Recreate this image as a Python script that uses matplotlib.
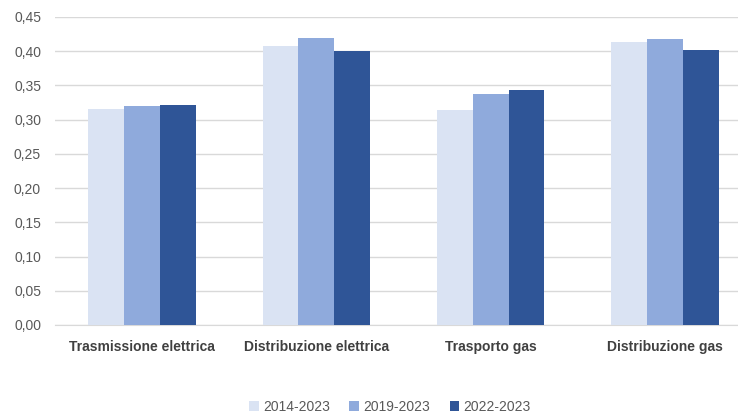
import matplotlib.pyplot as plt
import numpy as np

# Categorie e valori medi per periodo
categories = ["Trasmissione elettrica", "Distribuzione elettrica", "Trasporto gas", "Distribuzione gas"]
periods = ["2014-2023", "2019-2023", "2022-2023"]
v_2014_2023 = [0.315, 0.407, 0.314, 0.414]
v_2019_2023 = [0.320, 0.419, 0.337, 0.418]
v_2022_2023 = [0.322, 0.400, 0.343, 0.402]
yticks = [0.00, 0.05, 0.10, 0.15, 0.20, 0.25, 0.30, 0.35, 0.40, 0.45]

colors = ["#DAE3F3", "#8FAADC", "#2F5597"]
series = [v_2014_2023, v_2019_2023, v_2022_2023]

plt.rcParams['font.family'] = ['Liberation Sans', 'DejaVu Sans']

fig = plt.figure(figsize=(7.38, 4.18), dpi=100)
ax = fig.add_axes([55 / 738, 93 / 418, 697 / 738, 308 / 418])

x = np.arange(len(categories))
width = 0.206
for i, (vals, col, lab) in enumerate(zip(series, colors, periods)):
    ax.bar(x + (i - 1) * width, vals, width, color=col, label=lab, zorder=3)

ax.set_xlim(-0.5, len(categories) - 0.5)
ax.set_ylim(0, 0.45)
ax.set_yticks(yticks)
ax.set_yticklabels([f"{t:.2f}".replace(".", ",") for t in yticks], color="#595959", fontsize=10)
ax.set_xticks(x)
ax.set_xticklabels(categories, fontsize=10, fontweight="bold", color="#404040")
ax.tick_params(axis="both", length=0)
ax.tick_params(axis="x", pad=11)
ax.tick_params(axis="y", pad=10)

ax.grid(axis="y", color="#D9D9D9", linewidth=1, zorder=0)
for s in ["top", "right", "left"]:
    ax.spines[s].set_visible(False)
ax.spines["bottom"].set_color("#D9D9D9")

fig.legend(loc="center", bbox_to_anchor=(390 / 738, 11 / 418), ncol=3, frameon=False,
           fontsize=10, handlelength=0.7, handleheight=0.7, handletextpad=0.3,
           columnspacing=1.4, labelcolor="#595959")

fig.savefig("out.png", dpi=100)
